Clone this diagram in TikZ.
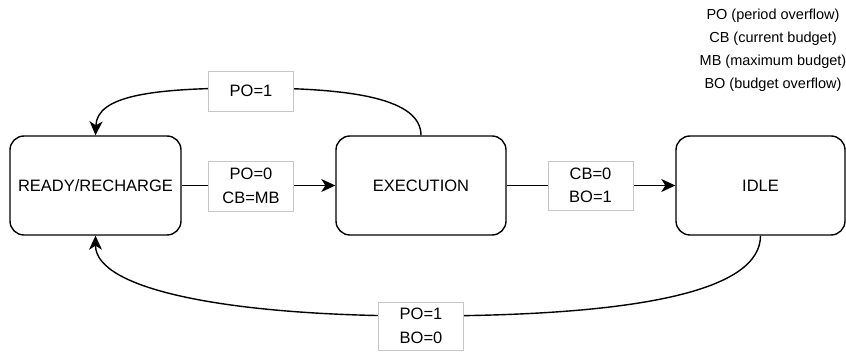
\documentclass[tikz,border=0pt]{standalone}
\usepackage{fontspec}
\setmainfont{Liberation Sans}
\usetikzlibrary{arrows.meta}
\begin{document}
\begin{tikzpicture}[x=1pt,y=-1pt,
  state/.style={draw, line width=1.4pt, rounded corners=14pt,
    minimum width=170pt, minimum height=99pt, inner sep=0pt,
    font=\fontsize{16.5}{24}\selectfont},
  cond/.style={draw=black!22, fill=white, line width=0.8pt, align=center,
    minimum width=85pt, inner sep=0pt,
    font=\fontsize{16.5}{23.5}\selectfont},
  flow/.style={line width=1.4pt,
    -{Stealth[length=14pt,width=13pt,inset=4pt]}}]
\useasboundingbox (0,0) rectangle (846,352);

% states
\node[state, minimum width=171pt] (ready) at (95.5,185.5) {READY/RECHARGE};
\node[state] (exec) at (421,185.5) {EXECUTION};
\node[state, minimum width=169pt] (idle) at (760.5,185.5) {IDLE};

% transitions
\draw[flow] (ready.east) -- (exec.west);
\draw[flow] (exec.east) -- (idle.west);
\draw[flow] (exec.north) .. controls +(0,-36) and (355,88) .. (251,88)
  .. controls (150,88) and (97,96) .. (ready.north);
\draw[flow] (idle.south) .. controls +(0,55) and (640,316) .. (421,316)
  .. controls (230,316) and (95.5,290) .. (ready.south);

% transition conditions
\node[cond, minimum height=40pt] (c1) at (251,91) {PO=1};
\node[cond, minimum height=50pt] (c2) at (251,186) {PO=0\\CB=MB};
\node[cond, minimum height=49pt] (c3) at (590.5,185.5) {CB=0\\BO=1};
\node[cond, minimum height=48pt] (c4) at (421,326) {PO=1\\BO=0};

% abbreviations
\node[align=center, inner sep=0pt, font=\fontsize{14.5}{23}\selectfont]
  (legend) at (773,50) {PO (period overflow)\\CB (current budget)\\
  MB (maximum budget)\\BO (budget overflow)};
\end{tikzpicture}
\end{document}
